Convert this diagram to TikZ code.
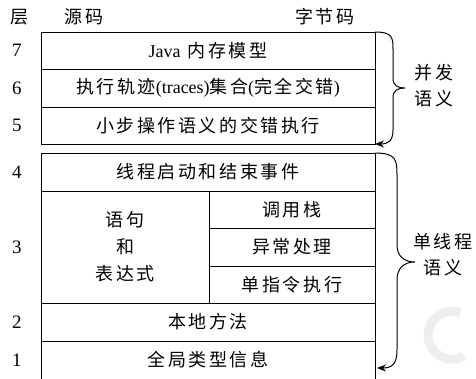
\documentclass[tikz,border=0pt]{standalone}
\usepackage{fontspec}
\setmainfont{Liberation Serif}
\newfontfamily\cjk[LetterSpace=14]{Noto Sans CJK SC}
\newcommand\zh[1]{{\cjk #1}}
\usetikzlibrary{arrows.meta}
\tikzset{
  cell/.style={draw, line width=1pt, inner sep=0pt, outer sep=0pt, align=center,
    font=\fontsize{18}{27}\selectfont},
  lbl/.style={inner sep=0pt, align=center, font=\fontsize{18}{26}\selectfont},
  num/.style={inner sep=0pt, font=\fontsize{19}{22}\selectfont},
  bracepath/.style={line width=1pt, -{Stealth[length=9pt,width=7pt]}},
}
\begin{document}
\begin{tikzpicture}[x=1pt,y=-1pt]
\useasboundingbox (0,0) rectangle (476,378);
% watermark
\draw[gray!13, line width=9pt] (464,356) arc[start angle=60, end angle=290, radius=24];
% header
\node[lbl] (hc) at (19,17) {\zh{层}};
\node[lbl] (hs) at (84,17) {\zh{源码}};
\node[lbl] (hb) at (325,17) {\zh{字节码}};
% upper block
\node[cell, minimum width=334pt, minimum height=37pt] (r7) at (208,50.5) {Java\hspace{7pt}\zh{内存模型}};
\node[cell, minimum width=334pt, minimum height=38pt] (r6) at (208,88) {\zh{执行轨迹}(traces)\zh{集合}(\zh{完全交错})};
\node[cell, minimum width=334pt, minimum height=37pt] (r5) at (208,125.5) {\zh{小步操作语义的交错执行}};
% lower block
\node[cell, minimum width=334pt, minimum height=38pt] (r4) at (208,172) {\zh{线程启动和结束事件}};
\node[cell, minimum width=168pt, minimum height=112pt] (r3l) at (125,247) {\zh{语句}\\\zh{和}\\\zh{表达式}};
\node[cell, minimum width=166pt, minimum height=37pt] (r3a) at (292,209.5) {\zh{调用栈}};
\node[cell, minimum width=166pt, minimum height=38pt] (r3b) at (292,247) {\zh{异常处理}};
\node[cell, minimum width=166pt, minimum height=37pt] (r3c) at (292,284.5) {\zh{单指令执行}};
\node[cell, minimum width=334pt, minimum height=38pt] (r2) at (208,322) {\zh{本地方法}};
\node[cell, minimum width=334pt, minimum height=38pt] (r1) at (208,360) {\zh{全局类型信息}};
% layer numbers
\node[num] (n7) at (17,50.5) {7};
\node[num] (n6) at (17,88) {6};
\node[num] (n5) at (17,125.5) {5};
\node[num] (n4) at (17,172) {4};
\node[num] (n3) at (17,247) {3};
\node[num] (n2) at (17,322) {2};
\node[num] (n1) at (17,360) {1};
% braces
\coordinate (ua) at (r7.north east);
\coordinate (ub) at (r5.south east);
\draw[bracepath] (ua) .. controls (393,32) and (393,38) .. (393,50) -- (393,78)
  .. controls (393,86) and (398,88) .. (405,88)
  .. controls (398,88) and (393,90) .. (393,98) -- (393,130)
  .. controls (393,141) and (388,144) .. (ub);
\node[lbl] (uc) at (434,86) {\zh{并发}\\\zh{语义}};
\coordinate (la) at (r4.north east);
\coordinate (lb) at (377,368);
\draw[bracepath] (la) .. controls (396,153) and (397,160) .. (397,175) -- (397,245)
  .. controls (397,256) and (404,262) .. (415,262)
  .. controls (404,262) and (397,268) .. (397,280) -- (397,350)
  .. controls (397,364) and (392,368) .. (lb);
\node[lbl] (lc) at (443,255) {\zh{单线程}\\\zh{语义}};
\end{tikzpicture}
\end{document}
